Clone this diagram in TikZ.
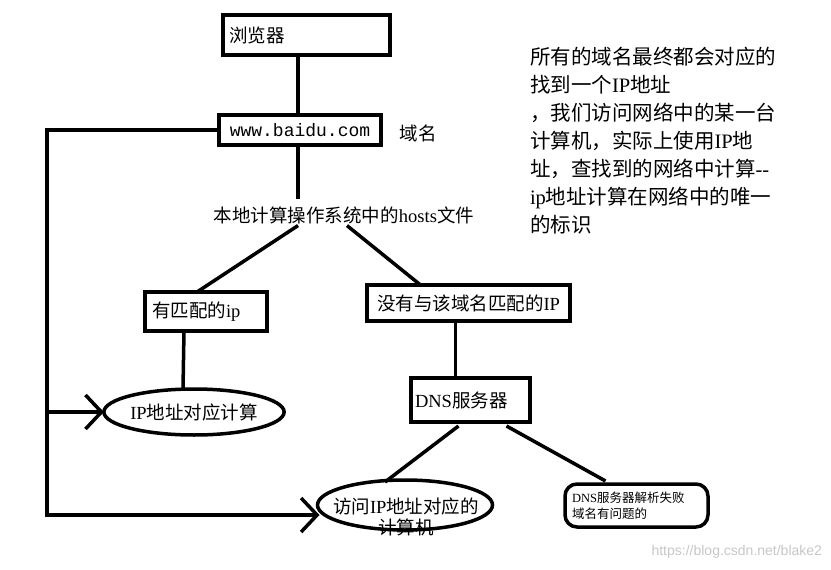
\documentclass[tikz,border=0pt]{standalone}
\usepackage{fontspec}
\setmainfont{Noto Sans CJK SC}
\newfontfamily\lat{Liberation Serif}
\newfontfamily\mono{Liberation Mono}
\newfontfamily\wmfont{Liberation Sans}
\usetikzlibrary{arrows.meta,shapes.geometric,calc}
\begin{document}
\begin{tikzpicture}[x=1pt,y=-1pt,
  every node/.style={inner sep=0pt, outer sep=0pt},
  boxnode/.style={draw, line width=3.5pt, inner sep=0pt},
  ovalnode/.style={draw, ellipse, line width=3.5pt, inner sep=0pt},
  conn/.style={line width=3.5pt},
  arr/.style={line width=3.5pt, -{Straight Barb[length=16pt,width=34pt]}},
  txt/.style={font=\fontsize{18.5}{21}\selectfont},
]
\fill[white] (0,0) rectangle (831,570);
\useasboundingbox (0,0) rectangle (831,570);

% nodes
\node[boxnode, txt, text width=155pt, align=left, inner xsep=6pt, minimum height=40pt] (b) at (306.5,35) {浏览器};
\node[boxnode, minimum width=162pt, minimum height=30pt, font=\mono\fontsize{18}{20}\selectfont] (www) at (300,130) {www.baidu.com};
\node[txt] (dom) at (418,133) {域名};
\node[txt] (hosts) at (344,215) {本地计算操作系统中的{\lat hosts}文件};
\node[boxnode, txt, text width=108pt, align=left, inner xsep=7pt, minimum height=39pt] (ip1) at (206,311.5) {有匹配的{\lat ip}};
\node[boxnode, txt, minimum width=203pt, minimum height=36pt] (nm) at (468.5,303) {没有与该域名匹配的{\lat IP}};
\node[boxnode, txt, text width=111pt, align=left, inner xsep=4pt, minimum height=44pt] (dns) at (470.5,400) {{\lat DNS}服务器};
\node[ovalnode, txt, minimum width=164pt, minimum height=46pt] (e1) at (194,412) {{\lat IP}地址对应计算};
\node[ovalnode, minimum width=175pt, minimum height=50pt] (e2) at (405,505) {};
\node[txt, align=center] (e2t) at (406,517) {访问{\lat IP}地址对应的\\计算机};
\node[boxnode, rounded corners=12pt, text width=129pt, align=left, inner xsep=7pt, minimum height=43pt, font=\fontsize{12.5}{16}\selectfont] (fail) at (636.5,505.5) {{\lat DNS}服务器解析失败\\域名有问题的};
\node[anchor=north west, align=left, font=\fontsize{20.5}{28}\selectfont] (note) at (530,47) {所有的域名最终都会对应的\\找到一个{\lat IP}地址\\，我们访问网络中的某一台\\计算机，实际上使用{\lat IP}地\\址，查找到的网络中计算{\lat -{}-}\\{\lat ip}地址计算在网络中的唯一\\的标识};
\node[font=\wmfont\fontsize{14}{16}\selectfont, text=black!22, anchor=east] (wm) at (822,552) {https://blog.csdn.net/blake2};

% connectors
\draw[conn] ($(b.south)+(-8.5,0)$) -- ($(www.north)+(-2,0)$);
\draw[conn] ($(www.south)+(-2,0)$) -- ($(hosts.north)+(-46,-7)$);
\draw[conn] ($(hosts.south)+(-46,2)$) -- ($(ip1.north)+(-9,0)$);
\draw[conn] ($(hosts.south)+(3,2)$) -- ($(nm.north)+(-48,0)$);
\draw[conn] ($(ip1.south)+(-22,0)$) -- ($(e1.north)+(-11,0)$);
\draw[conn] ($(nm.south)+(-13,0)$) -- ($(dns.north)+(-15,0)$);
\draw[conn] ($(dns.south)+(-12,4)$) -- ($(e2.north)+(-20,2)$);
\draw[conn] ($(dns.south)+(36,4)$) -- ($(fail.north)+(-31,-3)$);

\coordinate (Lc) at (47,515);
\draw[arr] (www.west) -| (Lc) -- ($(Lc -| e2.west)+(2,0)$);
\draw[arr] (e1.west -| Lc) -- (e1.west);
\end{tikzpicture}
\end{document}
